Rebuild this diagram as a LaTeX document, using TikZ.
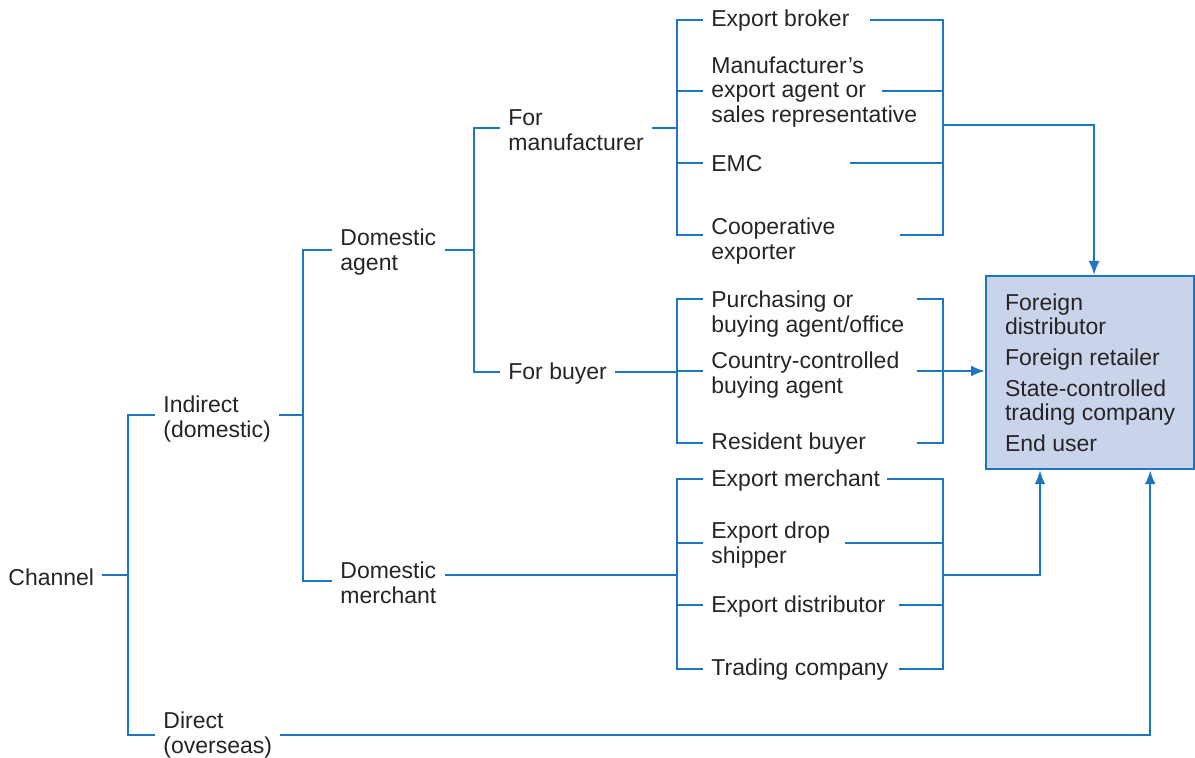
\documentclass[tikz,border=0pt]{standalone}
\usepackage{fontspec}
\setmainfont{Liberation Sans}
\usetikzlibrary{arrows.meta}
\definecolor{lineblue}{RGB}{30,118,194}
\definecolor{boxfill}{RGB}{201,212,234}
\definecolor{txtgray}{RGB}{38,36,38}
\begin{document}
\begin{tikzpicture}[x=0.5pt, y=-0.5pt,
    lbl/.style={anchor=west, align=left, inner xsep=4pt, inner ysep=1pt, text=txtgray, font=\fontsize{11.5}{12.3}\selectfont},
    link/.style={draw=lineblue, line width=1.1pt},
    arr/.style={link, ->, >={Latex[length=7pt,width=5.5pt]}},
    destbox/.style={draw=lineblue, line width=1.1pt, fill=boxfill, align=left, minimum width=104pt, minimum height=96.5pt, text=txtgray, font=\fontsize{11.5}{12.3}\selectfont}]
    \useasboundingbox (0,0) rectangle (1195,758);

    % bus columns
    \coordinate (c0) at (128,0);
    \coordinate (c1) at (303,0);
    \coordinate (c2) at (474,0);
    \coordinate (c3) at (677,0);
    \coordinate (c4) at (943,0);

    \node (channel) [lbl] at (0,577) {Channel};
    \node (ind) [lbl] at (155,419) {Indirect\\(domestic)};
    \node (dir) [lbl] at (155,735) {Direct\\(overseas)};
    \node (dagent) [lbl] at (332,252) {Domestic\\agent};
    \node (dmerch) [lbl] at (332,583) {Domestic\\merchant};
    \node (fm) [lbl] at (500,130) {For\\manufacturer};
    \node (fb) [lbl] at (500,374) {For buyer};

    \node (eb) [lbl] at (703,21) {Export broker};
    \node (mea) [lbl] at (703,92) {Manufacturer’s\\export agent or\\sales representative};
    \node (emc) [lbl] at (703,164) {EMC};
    \node (coop) [lbl] at (703,241) {Cooperative\\exporter};
    \node (purch) [lbl] at (703,314) {Purchasing or\\buying agent/office};
    \node (ccba) [lbl] at (703,375) {Country-controlled\\buying agent};
    \node (rb) [lbl] at (703,444) {Resident buyer};
    \node (em) [lbl] at (703,481) {Export merchant};
    \node (eds) [lbl] at (703,545) {Export drop\\shipper};
    \node (ed) [lbl] at (703,607) {Export distributor};
    \node (tc) [lbl] at (703,670) {Trading company};

    \node (dest) [destbox, anchor=north west] at (985,275) {Foreign\\distributor\\[3pt]Foreign retailer\\[3pt]State-controlled\\trading company\\[3pt]End user};

    % ends of the right-hand lines
    \path (eb.west) ++(167,-1) coordinate (eb-r);
    \path (mea.west) ++(179,-1) coordinate (mea-r);
    \path (emc.west) ++(147,-1) coordinate (emc-r);
    \path (coop.west) ++(197,-6) coordinate (coop-r);
    \path (purch.west) ++(214,-15) coordinate (purch-r);
    \path (ccba.west) ++(214,-4) coordinate (ccba-r);
    \path (rb.west) ++(214,-1) coordinate (rb-r);
    \path (em.west) ++(184,-2) coordinate (em-r);
    \path (eds.west) ++(142,-2) coordinate (eds-r);
    \path (ed.west) ++(196,-2) coordinate (ed-r);
    \path (tc.west) ++(196,-1) coordinate (tc-r);
    \coordinate (mfr-out) at (943,125);
    \coordinate (mch-out) at (943,575);

    % channel
    \draw[link] ([yshift=1pt]channel.east) -- ([yshift=1pt]channel.east -| c0);
    \draw[link] ([yshift=2pt]ind.west) -| (dir.west -| c0) -- (dir.west);

    % indirect
    \draw[link] ([yshift=2pt]ind.east) -- ([yshift=2pt]ind.east -| c1);
    \draw[link] ([yshift=1pt]dagent.west) -| ([yshift=1pt]dmerch.west -| c1) -- ([yshift=1pt]dmerch.west);

    % domestic agent
    \draw[link] ([yshift=1pt]dagent.east) -- ([yshift=1pt]dagent.east -| c2);
    \draw[link] ([yshift=1pt]fm.west) -| ([yshift=1pt]fb.west -| c2) -- ([yshift=1pt]fb.west);

    % for manufacturer
    \draw[link] ([yshift=1pt]fm.east) -- ([yshift=1pt]fm.east -| c3);
    \draw[link] ([yshift=0.5pt]eb.west) -| ([yshift=3pt]coop.west -| c3) -- ([yshift=3pt]coop.west);
    \draw[link] ([yshift=0.5pt]mea.west -| c3) -- ([yshift=0.5pt]mea.west);
    \draw[link] ([yshift=0.5pt]emc.west -| c3) -- ([yshift=0.5pt]emc.west);
    \draw[link] (eb-r) -| (coop-r -| c4) -- (coop-r);
    \draw[link] (mea-r) -- (mea-r -| c4);
    \draw[link] (emc-r) -- (emc-r -| c4);
    \draw[arr] (mfr-out) -| ([xshift=2pt]dest.north);

    % for buyer
    \draw[link] ([yshift=1pt]fb.east) -- ([yshift=1pt]fb.east -| c3);
    \draw[link] ([yshift=7.5pt]purch.west) -| ([yshift=0.5pt]rb.west -| c3) -- ([yshift=0.5pt]rb.west);
    \draw[link] ([yshift=2pt]ccba.west -| c3) -- ([yshift=2pt]ccba.west);
    \draw[link] (purch-r) -| (rb-r -| c4) -- (rb-r);
    \draw[arr] (ccba-r) -- (ccba-r -| dest.west);

    % domestic merchant
    \draw[link] ([yshift=4pt]dmerch.east) -- ([yshift=4pt]dmerch.east -| c3);
    \draw[link] ([yshift=1pt]em.west) -| ([yshift=0.5pt]tc.west -| c3) -- ([yshift=0.5pt]tc.west);
    \draw[link] ([yshift=1pt]eds.west -| c3) -- ([yshift=1pt]eds.west);
    \draw[link] ([yshift=1pt]ed.west -| c3) -- ([yshift=1pt]ed.west);
    \draw[link] (em-r) -| (tc-r -| c4) -- (tc-r);
    \draw[link] (eds-r) -- (eds-r -| c4);
    \draw[link] (ed-r) -- (ed-r -| c4);
    \draw[arr] (mch-out) -| ([xshift=27.5pt]dest.south west);

    % direct
    \draw[arr] (dir.east) -| ([xshift=-22.5pt]dest.south east);
\end{tikzpicture}
\end{document}
